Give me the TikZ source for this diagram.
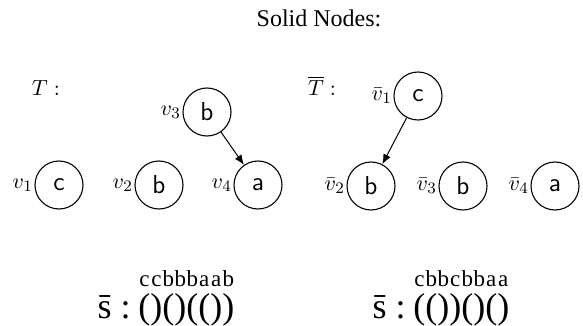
\documentclass[tikz,border=0pt]{standalone}
\usepackage{fontspec}
\setmainfont{Liberation Serif}
\usetikzlibrary{arrows.meta}
\newlength\pw
\newcommand\lb[1]{\makebox[\pw][c]{#1}}
\newcommand\bigfont{\fontsize{18}{20}\selectfont}
\newcommand\letfont{\fontsize{11.5}{13}\selectfont}
\begin{document}
\settowidth{\pw}{\bigfont (}
\begin{tikzpicture}[x=0.5pt,y=-0.5pt,
  vert/.style={circle,draw,line width=0.55pt,minimum size=24pt,inner sep=0pt,font=\sffamily\fontsize{13}{15}\selectfont},
  lab/.style={inner sep=0.6pt,font=\fontsize{11}{13}\selectfont},
  edge/.style={line width=0.5pt,-{Latex[length=5pt,width=4pt]}},
  title/.style={font=\large},
  tlab/.style={font=\fontsize{11}{13}\selectfont},
  seq/.style={inner sep=0pt,anchor=base west,font=\bigfont},
  sbar/.style={inner sep=0pt,anchor=base east,font=\bigfont},
  lets/.style={inner sep=0pt,anchor=base west,font=\letfont}]
\useasboundingbox (0,0) rectangle (583,326);
\node[title] (tt) at (319,18) {Solid Nodes:};
\node[tlab] (T) at (46,88) {$T:$};
\node[tlab] (Tb) at (322,86) {$\overline{T}:$};
% left tree
\node[vert,label={[lab]left:$v_3$}] (v3) at (207,112) {b};
\node[vert,label={[lab]left:$v_1$}] (v1) at (59,185) {c};
\node[vert,label={[lab]left:$v_2$}] (v2) at (159,185) {b};
\node[vert,label={[lab]left:$v_4$}] (v4) at (258,185) {a};
\draw[edge] (v3) -- (v4);
% right tree
\node[vert,label={[lab]left:$\bar v_1$}] (w1) at (418,96) {c};
\node[vert,label={[lab]left:$\bar v_2$}] (w2) at (371,186) {b};
\node[vert,label={[lab]left:$\bar v_3$}] (w3) at (463,186) {b};
\node[vert,label={[lab]left:$\bar v_4$}] (w4) at (555,186) {a};
\draw[edge] (w1) -- (w2);
% sequences
\node[sbar] (sbL) at (131,318) {\=s :};
\node[seq] (pL) at (138,318) {()()(())};
\node[lets] (wL) at (138,286) {\lb{c}\lb{c}\lb{b}\lb{b}\lb{b}\lb{a}\lb{a}\lb{b}};
\node[sbar] (sbR) at (406,318) {\=s :};
\node[seq] (pR) at (413,318) {(())()()};
\node[lets] (wR) at (413,286) {\lb{c}\lb{b}\lb{b}\lb{c}\lb{b}\lb{b}\lb{a}\lb{a}};
\end{tikzpicture}
\end{document}
